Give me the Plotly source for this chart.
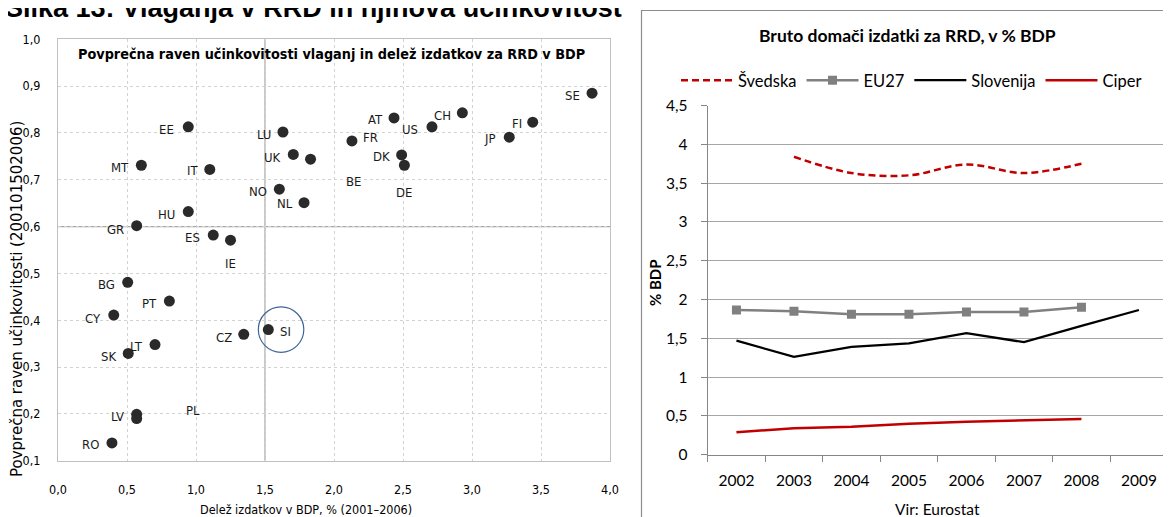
import plotly.graph_objects as go

# page body adds an 8px margin, so the figure is offset by 8px
OFF = 8
W, H = 1171 - OFF, 517 - OFF
def px(x): return (x - OFF) / W
def py(y): return 1 - (y - OFF) / H

# ---------------- Left chart data ----------------
countries = ["SE","FI","JP","CH","US","AT","FR","DK","DE","BE","EE","LU","UK","MT","IT","NO","NL",
             "HU","GR","ES","IE","BG","PT","CY","LT","SK","CZ","SI","LV","PL","RO"]
rd_share = [3.87,3.44,3.27,2.93,2.71,2.435,2.13,2.49,2.51,1.83,0.944,1.63,1.705,0.604,1.10,1.604,1.783,
            0.944,0.57,1.125,1.25,0.505,0.807,0.404,0.703,0.509,1.346,1.524,0.57,0.57,0.391]
efficiency = [0.885,0.823,0.791,0.843,0.813,0.832,0.783,0.753,0.731,0.744,0.813,0.802,0.754,0.731,0.722,0.680,0.651,
              0.632,0.602,0.582,0.571,0.481,0.441,0.411,0.348,0.329,0.370,0.380,0.199,0.190,0.138]
# label offsets in pixels (dx right, dy down)
label_offsets = {"SE":(-20,2),"FI":(-16,1),"JP":(-19,1),"CH":(-20,3),"US":(-22,3),"AT":(-19,2),"FR":(19,-3),
                 "DK":(-20,2),"DE":(0,27),"BE":(43,22),"EE":(-22,3),"LU":(-19,2),"UK":(-21,3),"MT":(-21,2),
                 "IT":(-17,1),"NO":(-21,2),"NL":(-19,1),"HU":(-22,3),"GR":(-21,4),"ES":(-21,2),"IE":(0,23),
                 "BG":(-21,2),"PT":(-20,2),"CY":(-21,3),"LT":(-19,2),"SK":(-20,3),"CZ":(-20,3),"SI":(17,2),
                 "LV":(-19,2),"PL":(56,-8),"RO":(-21,2)}
x_ticks_left = [0.0,0.5,1.0,1.5,2.0,2.5,3.0,3.5,4.0]
y_ticks_left = [0.1,0.2,0.3,0.4,0.5,0.6,0.7,0.8,0.9,1.0]
CROSS_X, CROSS_Y = 1.5, 0.6
HIGHLIGHT = "SI"

# ---------------- Right chart data ----------------
years = ["2002","2003","2004","2005","2006","2007","2008","2009"]
svedska = [None,3.84,3.63,3.60,3.74,3.63,3.75,None]
eu27 = [1.865,1.85,1.81,1.81,1.84,1.84,1.90,None]
slovenija = [1.47,1.26,1.39,1.435,1.565,1.45,1.66,1.865]
ciper = [0.29,0.34,0.36,0.40,0.425,0.44,0.46,None]
y_ticks_right = [0,0.5,1,1.5,2,2.5,3,3.5,4,4.5]
y_ticklabels_right = ["0","0,5","1","1,5","2","2,5","3","3,5","4","4,5"]

NARROW = "DejaVu Sans Condensed, sans-serif"
CAL = "Lato, Carlito, Calibri, sans-serif"

fig = go.Figure()

fig.add_trace(go.Scatter(x=rd_share, y=efficiency, mode="markers", showlegend=False,
                         marker=dict(size=11, color="#2a2a2a", line=dict(width=0)),
                         xaxis="x", yaxis="y"))

fig.add_trace(go.Scatter(x=years, y=svedska, mode="lines", name="Švedska", line_shape="spline",
                         line=dict(color="#c00000", width=2.5, dash="7px,4px"),
                         xaxis="x2", yaxis="y2"))
fig.add_trace(go.Scatter(x=years, y=eu27, mode="lines+markers", name="EU27",
                         line=dict(color="#808080", width=2.5),
                         marker=dict(symbol="square", size=9, color="#808080"),
                         xaxis="x2", yaxis="y2"))
fig.add_trace(go.Scatter(x=years, y=slovenija, mode="lines", name="Slovenija",
                         line=dict(color="#000000", width=2.25),
                         xaxis="x2", yaxis="y2"))
fig.add_trace(go.Scatter(x=years, y=ciper, mode="lines", name="Ciper",
                         line=dict(color="#c00000", width=2.5),
                         xaxis="x2", yaxis="y2"))

annotations = []
for c, xv, yv in zip(countries, rd_share, efficiency):
    dx, dy = label_offsets[c]
    annotations.append(dict(x=xv, y=yv, xref="x", yref="y", text=c, showarrow=False,
                            xanchor="center", yanchor="middle",
                            xshift=dx, yshift=-dy, font=dict(family=NARROW, size=13, color="#1a1a1a")))

def note(x, y, text, font, angle=0, xa="center", ya="middle"):
    return dict(x=px(x), y=py(y), xref="paper", yref="paper", showarrow=False, text=text,
                textangle=angle, xanchor=xa, yanchor=ya, font=font)

annotations += [
    note(331, 54, "<b>Povprečna raven učinkovitosti vlaganj in delež izdatkov za RRD v BDP</b>",
         dict(family=NARROW, size=14.3, color="#000")),
    note(17, 299, "Povprečna raven učinkovitosti (200101502006)",
         dict(family="DejaVu Sans, sans-serif", size=15, color="#000"), angle=-90),
    note(306, 509, "Delež izdatkov v BDP, % (2001–2006)", dict(family=NARROW, size=12.5, color="#000")),
    note(3, -9, "<b>Slika 13: Vlaganja v RRD in njihova učinkovitost</b>",
         dict(family="Liberation Sans, Arial, sans-serif", size=27, color="#000"), xa="left", ya="top"),
    note(907, 35, "<b>Bruto domači izdatki za RRD, v % BDP</b>", dict(family=CAL, size=17.5, color="#000")),
    note(655, 283, "<b>% BDP</b>", dict(family=CAL, size=15, color="#000"), angle=-90),
    note(937, 509, "Vir: Eurostat", dict(family=CAL, size=15.5, color="#000")),
]

si_idx = countries.index(HIGHLIGHT)
shapes = [
    dict(type="line", xref="x", yref="paper", x0=CROSS_X, x1=CROSS_X, y0=py(460.7), y1=py(39.3),
         line=dict(color="#a6a6a6", width=1.2), layer="below"),
    dict(type="line", xref="paper", yref="y", x0=px(58), x1=px(610), y0=CROSS_Y, y1=CROSS_Y,
         line=dict(color="#a6a6a6", width=1.2), layer="below"),
    dict(type="circle", xref="x", yref="y", xsizemode="pixel", ysizemode="pixel",
         xanchor=rd_share[si_idx], yanchor=efficiency[si_idx], x0=-10, x1=35.5, y0=-22.7, y1=22.7,
         line=dict(color="#3f6597", width=1.2)),
    dict(type="rect", xref="paper", yref="paper", x0=px(641.5), x1=px(1180), y0=py(530), y1=py(10.5),
         line=dict(color="#8c8c8c", width=1.2), fillcolor="rgba(0,0,0,0)"),
]

fig.update_layout(
    width=W, height=H, margin=dict(l=0, r=0, t=0, b=0, autoexpand=False),
    paper_bgcolor="white", plot_bgcolor="white", separators=", ",
    annotations=annotations, shapes=shapes,
    xaxis=dict(domain=[px(58), px(610)], range=[0, 4], tickvals=x_ticks_left, tickformat=".1f",
               showgrid=True, gridcolor="#d2d2d2", griddash="dot", gridwidth=1, zeroline=False,
               showline=True, mirror=True, linecolor="#c0c0c0", ticks="", ticklabelstandoff=17,
               automargin=False, tickfont=dict(family=NARROW, size=12.5, color="#000")),
    yaxis=dict(domain=[py(460.7), py(39.3)], range=[0.1, 1.0], tickvals=y_ticks_left, tickformat=".1f",
               showgrid=True, gridcolor="#d2d2d2", griddash="dot", gridwidth=1, zeroline=False,
               showline=True, mirror=True, linecolor="#c0c0c0", ticks="", ticklabelstandoff=14,
               automargin=False, tickfont=dict(family=NARROW, size=12.5, color="#000")),
    xaxis2=dict(domain=[px(707.7), px(1167.7)], type="category", range=[-0.5, 7.5], anchor="y2",
                showgrid=False, zeroline=False, showline=True, linecolor="#868686", linewidth=1,
                ticks="outside", tickson="boundaries", ticklen=6, tickcolor="#868686",
                ticklabelstandoff=12, automargin=False, tickfont=dict(family=CAL, size=15.5, color="#000")),
    yaxis2=dict(domain=[py(454.7), py(105.5)], range=[0, 4.5], anchor="x2",
                tickvals=y_ticks_right, ticktext=y_ticklabels_right,
                showgrid=True, gridcolor="#a6a6a6", gridwidth=1, zeroline=False,
                showline=True, linecolor="#868686", linewidth=1,
                ticks="outside", ticklen=6, tickcolor="#868686", ticklabelstandoff=10,
                automargin=False, tickfont=dict(family=CAL, size=15.5, color="#000")),
    legend=dict(orientation="h", x=px(676), y=py(63), xanchor="left", yanchor="top",
                font=dict(family=CAL, size=16.5, color="#000"), bgcolor="rgba(0,0,0,0)",
                itemwidth=52, tracegroupgap=0),
)

fig.write_html("out.html")
